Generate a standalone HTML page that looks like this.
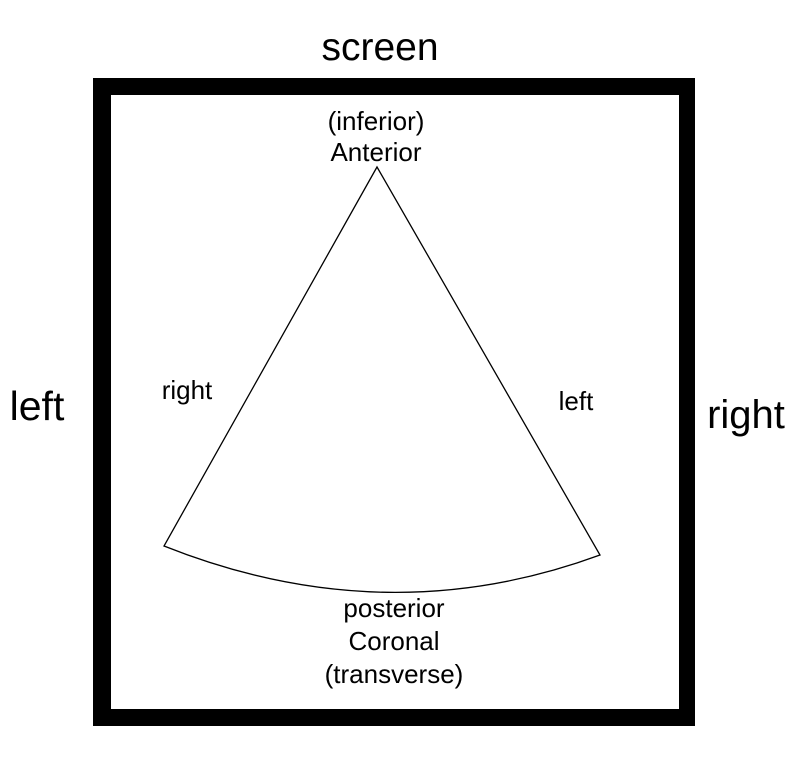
<!DOCTYPE html>
<html><head><style>
body{margin:0;background:#fff;}
svg{display:block;}
text{font-family:"Liberation Sans",sans-serif;fill:#000;}
</style></head><body>
<svg width="800" height="776" viewBox="0 0 800 776">
<rect x="0" y="0" width="800" height="776" fill="#fff"/>
<rect x="93" y="78" width="602" height="648" fill="#000"/>
<rect x="111" y="95" width="568" height="614" fill="#fff"/>
<path d="M377 167 L164 546 Q385 634 600 555 Z" fill="#fff" stroke="#000" stroke-width="1.3"/>
<text x="380" y="60" font-size="39" text-anchor="middle">screen</text>
<text x="37" y="420" font-size="41" text-anchor="middle">left</text>
<text x="746" y="428" font-size="40" text-anchor="middle">right</text>
<text x="376" y="130" font-size="26" text-anchor="middle">(inferior)</text>
<text x="376" y="161" font-size="26" text-anchor="middle">Anterior</text>
<text x="187" y="399" font-size="26" text-anchor="middle">right</text>
<text x="576" y="410" font-size="26" text-anchor="middle">left</text>
<text x="394" y="617" font-size="26" text-anchor="middle">posterior</text>
<text x="394" y="650" font-size="26" text-anchor="middle">Coronal</text>
<text x="394" y="683" font-size="26" text-anchor="middle">(transverse)</text>
</svg>
</body></html>
